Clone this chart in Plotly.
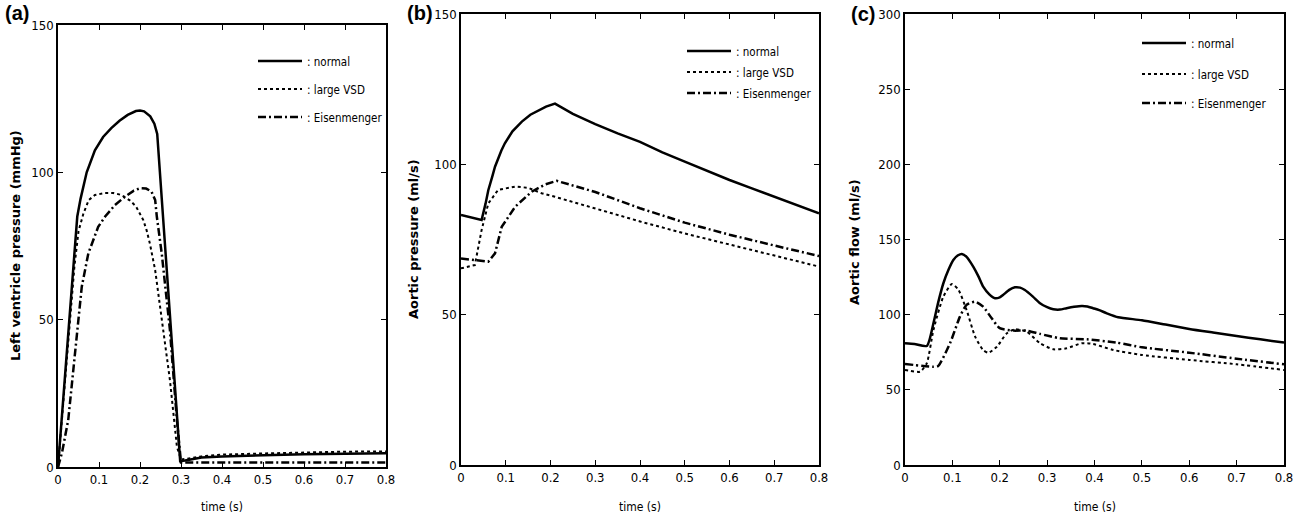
import plotly.graph_objects as go

# ---------------- data ----------------
# (a) Left ventricle pressure (mmHg)
a_normal_t = [0, 0.01, 0.02, 0.03, 0.04, 0.047, 0.055, 0.07, 0.09, 0.11, 0.13, 0.15, 0.17, 0.19, 0.2,
              0.21, 0.225, 0.235, 0.242, 0.25, 0.26, 0.27, 0.28, 0.29, 0.298, 0.31, 0.35, 0.4, 0.5, 0.6, 0.7, 0.8]
a_normal_p = [0, 18, 36, 54, 72, 85, 91, 100, 107.5, 112, 115, 117.5, 119.5, 120.8, 121,
              120.7, 119, 116.5, 113, 97, 78, 58, 39, 20, 2, 2.2, 3.2, 3.6, 4.0, 4.3, 4.5, 4.7]

a_vsd_t = [0, 0.01, 0.02, 0.03, 0.04, 0.05, 0.062, 0.075, 0.09, 0.115, 0.135, 0.155, 0.175, 0.19, 0.208,
           0.216, 0.224, 0.237, 0.253, 0.273, 0.29, 0.3, 0.35, 0.4, 0.5, 0.6, 0.7, 0.8]
a_vsd_p = [0, 17, 34, 51, 68, 80, 86, 90.6, 92.3, 93, 93, 92.3, 90.5, 88.5, 83.8,
           80.4, 75.9, 66.8, 49.9, 29.5, 6.9, 2.5, 3.6, 4.2, 4.6, 5.0, 5.2, 5.3]

a_eis_t = [0, 0.01, 0.025, 0.041, 0.058, 0.074, 0.098, 0.115, 0.139, 0.163, 0.185, 0.2, 0.215, 0.228,
           0.237, 0.241, 0.253, 0.273, 0.29, 0.3, 0.4, 0.5, 0.6, 0.7, 0.8]
a_eis_p = [0, 5, 16, 38.6, 61.2, 72.5, 81.5, 85, 88.9, 91.7, 93.8, 94.6, 94.5, 93.5,
           90.6, 85, 72.5, 46.5, 16, 1.5, 1.5, 1.5, 1.5, 1.5, 1.5]

# (b) Aortic pressure
b_normal_t = [0, 0.02, 0.046, 0.055, 0.061, 0.07, 0.076, 0.09, 0.098, 0.115, 0.136, 0.155, 0.173, 0.19,
              0.21, 0.25, 0.3, 0.35, 0.4, 0.45, 0.5, 0.55, 0.6, 0.65, 0.7, 0.75, 0.8]
b_normal_p = [83.2, 82.5, 81.5, 87, 91.4, 96, 99.2, 104.5, 107, 111, 114.2, 116.5, 118, 119.2,
              120.2, 116.8, 113.4, 110.3, 107.5, 104, 100.9, 97.8, 94.8, 92, 89.2, 86.4, 83.7]

b_vsd_t = [0, 0.031, 0.046, 0.061, 0.083, 0.121, 0.15, 0.18, 0.21, 0.3, 0.4, 0.5, 0.6, 0.7, 0.8]
b_vsd_p = [65.4, 66.5, 78.1, 87, 91.5, 92.6, 92.2, 90.4, 89.2, 85.3, 81, 77, 73.3, 69.6, 66]

b_eis_t = [0, 0.061, 0.076, 0.091, 0.121, 0.158, 0.188, 0.214, 0.3, 0.4, 0.5, 0.6, 0.7, 0.8]
b_eis_p = [68.7, 67.6, 70.4, 79.2, 85.9, 90.9, 93.3, 94.5, 90.8, 85.4, 80.6, 76.6, 73, 69.5]

# (c) Aortic flow
c_normal_t = [0, 0.02, 0.046, 0.06, 0.07, 0.081, 0.092, 0.102, 0.112, 0.12, 0.13, 0.144, 0.155, 0.165,
              0.178, 0.19, 0.2, 0.207, 0.22, 0.232, 0.243, 0.253, 0.27, 0.285, 0.3, 0.313, 0.327,
              0.341, 0.357, 0.373, 0.385, 0.397, 0.41, 0.426, 0.45, 0.5, 0.55, 0.6, 0.65, 0.7, 0.75, 0.8]
c_normal_q = [81, 80.5, 79.2, 94.3, 108, 120.9, 130, 136.4, 139.5, 140.4, 138.5, 132, 125.5, 118.6,
              113.5, 110.9, 111.5, 113.1, 116.5, 118.2, 118, 116.4, 112, 107.6, 105, 103.6, 103.4,
              104.3, 105.2, 105.8, 105.5, 104.3, 103, 100.9, 98.3, 96.3, 93.4, 90.5, 88.1, 85.8, 83.6, 81.4]

c_vsd_t = [0, 0.032, 0.046, 0.06, 0.081, 0.099, 0.113, 0.13, 0.148, 0.165, 0.176, 0.194, 0.215, 0.232,
           0.257, 0.285, 0.313, 0.341, 0.373, 0.397, 0.44, 0.5, 0.6, 0.7, 0.8]
c_vsd_q = [63.2, 62.1, 67.7, 89.8, 112, 120.4, 116.4, 103.1, 85.4, 76.5, 74.7, 78.7, 87.6, 90.3,
           88.7, 81, 77, 77.6, 81, 80.5, 76.5, 73.2, 69.9, 67, 63.2]

c_eis_t = [0, 0.06, 0.07, 0.095, 0.116, 0.13, 0.148, 0.165, 0.183, 0.2, 0.229, 0.257, 0.285, 0.327,
           0.384, 0.447, 0.5, 0.6, 0.7, 0.8]
c_eis_q = [67.2, 65.4, 65.9, 81, 98.7, 106.5, 108.6, 105.3, 97.6, 91, 89.4, 89.4, 87.2, 84.3,
           83.6, 81.4, 78.3, 74.7, 70.7, 67]

series_names = [": normal", ": large VSD", ": Eisenmenger"]
x_ticks = [0, 0.1, 0.2, 0.3, 0.4, 0.5, 0.6, 0.7, 0.8]
x_tick_text = ["0", "0.1", "0.2", "0.3", "0.4", "0.5", "0.6", "0.7", "0.8"]

# ---------------- styling ----------------
NARROW = "DejaVu Sans Condensed, Roboto, sans-serif"
BOLD = "DejaVu Sans, Liberation Sans, Arial, sans-serif"
PANEL = "Liberation Sans, Arial, sans-serif"
styles = [
    dict(color="black", width=2.5, dash="solid"),
    dict(color="black", width=2, dash="dot"),
    dict(color="black", width=2.5, dash="8px,3px,2px,3px"),
]

W, H = 1302, 520
def px_x(p):
    return p / W
def px_y(p):
    return 1 - p / H

# legend positions (window pixels): line-sample start x, row centres y
legend_x = [253, 682, 1137]
legend_rows = [[61, 89, 117], [51, 72, 93], [43, 74, 103]]

fig = go.Figure()

panels = [
    ("x", "y", [(a_normal_t, a_normal_p), (a_vsd_t, a_vsd_p), (a_eis_t, a_eis_p)], "linear"),
    ("x2", "y2", [(b_normal_t, b_normal_p), (b_vsd_t, b_vsd_p), (b_eis_t, b_eis_p)], "linear"),
    ("x3", "y3", [(c_normal_t, c_normal_q), (c_vsd_t, c_vsd_q), (c_eis_t, c_eis_q)], "spline"),
]
legend_layout = {}
k = 0
for pi, (xa, ya, data, shape) in enumerate(panels):
    for si, ((t, v), name, st) in enumerate(zip(data, series_names, styles)):
        k += 1
        lg = "legend" if k == 1 else "legend%d" % k
        fig.add_trace(go.Scatter(
            x=t, y=v, mode="lines", name=name, legend=lg, showlegend=True,
            xaxis=xa, yaxis=ya,
            line=dict(color=st["color"], width=st["width"], dash=st["dash"], shape=shape,
                      smoothing=0.6 if shape == "spline" else None),
            hoverinfo="skip",
        ))
        legend_layout[lg] = dict(
            bgcolor="rgba(0,0,0,0)", borderwidth=0, xanchor="left", yanchor="middle",
            x=px_x(legend_x[pi]), y=px_y(legend_rows[pi][si]),
            font=dict(family=NARROW, size=11.5, color="black"), itemwidth=44,
            visible=True,
        )

axis_common = dict(
    showgrid=False, zeroline=False, showline=True, linecolor="black", linewidth=1.5,
    mirror="ticks", ticks="inside", ticklen=5, tickwidth=1.2, tickcolor="black",
    tickfont=dict(family=NARROW, size=13, color="black"), automargin=False,
)

domains = [
    ((58, 386), (25, 467), [0, 150]),
    ((461, 819), (14, 465), [0, 150]),
    ((905, 1284), (14, 465), [0, 300]),
]
layout_axes = {}
for i, ((x0, x1), (y0, y1), yr) in enumerate(domains):
    sfx = "" if i == 0 else str(i + 1)
    layout_axes["xaxis" + sfx] = dict(
        axis_common, domain=[px_x(x0), px_x(x1)], range=[0, 0.8],
        tickvals=x_ticks, ticktext=x_tick_text, anchor="y" + sfx,
    )
    layout_axes["yaxis" + sfx] = dict(
        axis_common, domain=[px_y(y1), px_y(y0)], range=yr, dtick=50,
        anchor="x" + sfx,
    )

fig.update_layout(
    width=W, height=H,
    margin=dict(l=0, r=0, t=0, b=0),
    paper_bgcolor="white", plot_bgcolor="white",
    showlegend=True,
    **legend_layout,
    **layout_axes,
)

annotations = [
    dict(text="<b>(a)</b>", x=px_x(3), y=px_y(13)),
    dict(text="<b>(b)</b>", x=px_x(405), y=px_y(13)),
    dict(text="<b>(c)</b>", x=px_x(849), y=px_y(14)),
]
for a in annotations:
    a.update(xref="paper", yref="paper", xanchor="left", yanchor="middle", showarrow=False,
             font=dict(family=PANEL, size=20, color="black"))

ytitles = [
    ("Left ventricle pressure (mmHg)", 15, 246),
    ("Aortic pressure (ml/s)", 414, 239),
    ("Aortic flow (ml/s)", 854, 242),
]
for txt, xp, yp in ytitles:
    annotations.append(dict(text="<b>" + txt + "</b>", x=px_x(xp), y=px_y(yp), xref="paper", yref="paper",
                            textangle=-90, showarrow=False, xanchor="center", yanchor="middle",
                            font=dict(family=BOLD, size=13, color="black")))
for (x0, x1), _, _ in domains:
    annotations.append(dict(text="time (s)", x=px_x((x0 + x1) / 2), y=px_y(507), xref="paper", yref="paper",
                            showarrow=False, xanchor="center", yanchor="middle",
                            font=dict(family=NARROW, size=12, color="black")))

fig.update_layout(annotations=annotations)
# remove the default 8px page margin so the figure fills the window exactly
fig.write_html("out.html", config={"displayModeBar": False},
               post_script="document.body.style.margin='0';document.body.style.overflow='hidden';")
